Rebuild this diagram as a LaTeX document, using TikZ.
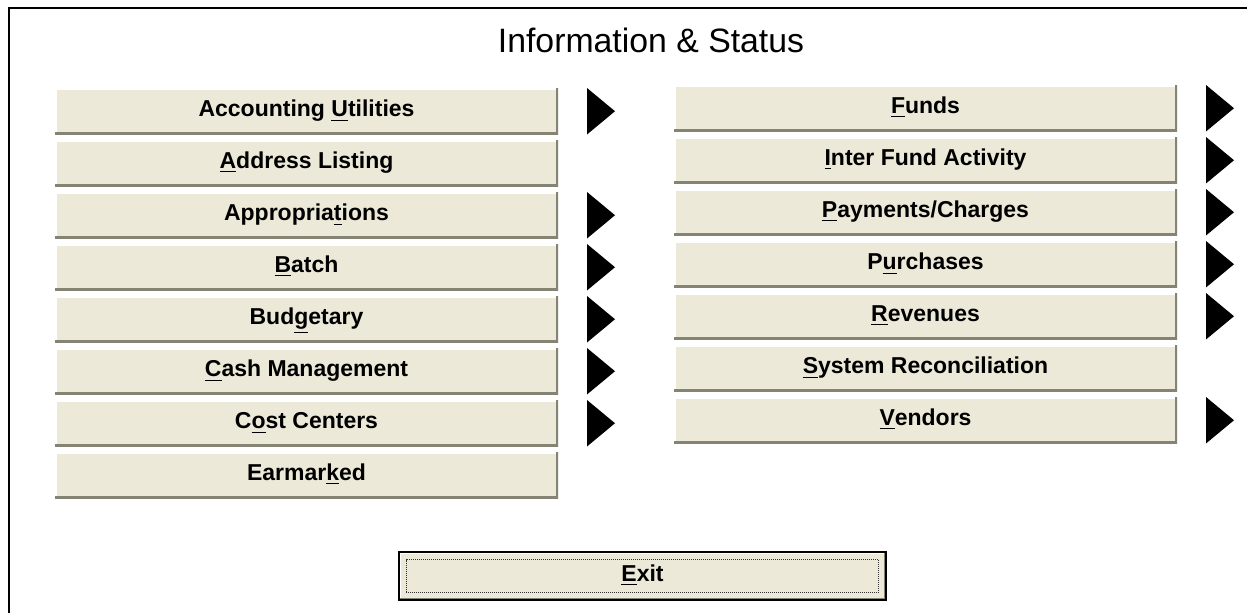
\documentclass[tikz,border=0pt]{standalone}
\usepackage{fontspec}
\setmainfont{Liberation Sans}
\usetikzlibrary{positioning}

\definecolor{BtnFace}{HTML}{ECE9D8}
\definecolor{BtnShade}{HTML}{858373}
\newcommand{\BtnFont}{\fontsize{11.5}{13}\selectfont\bfseries}
\newcommand{\Key}[1]{\underline{#1}}

\tikzset{
  MenuBtn/.style={fill=BtnFace, inner sep=0pt, outer sep=0pt,
    minimum width=251.5pt, minimum height=23.25pt,
    text height=8.2pt, text depth=2.5pt, font=\BtnFont,
    path picture={
      \draw[white, line width=1.6pt] (path picture bounding box.south west) |- (path picture bounding box.north east);
      \draw[BtnShade, line width=2.4pt] (path picture bounding box.south west) -| (path picture bounding box.north east);
    }},
  ExitBtn/.style={fill=BtnFace, draw=black, line width=1pt, inner sep=0pt, outer sep=0pt,
    minimum width=243.5pt, minimum height=24pt,
    text height=8.2pt, text depth=2.5pt, font=\BtnFont,
    path picture={
      \draw[white, line width=1.6pt] (path picture bounding box.south west) |- (path picture bounding box.north east);
      \draw[BtnShade, line width=2.4pt] (path picture bounding box.south west) -| (path picture bounding box.north east);
      \draw[black!80, dash pattern=on 0.5pt off 0.5pt, line width=0.6pt] ([shift={(3.6pt,3.8pt)}]path picture bounding box.south west) rectangle ([shift={(-3.6pt,-3.8pt)}]path picture bounding box.north east);
    }},
  SubArrow/.style={fill=black}
}

\begin{document}
\begin{tikzpicture}[x=0.5pt,y=-0.5pt]
	\useasboundingbox (0,0) rectangle (1247,613);
	\fill[white] (0,0) rectangle (1247,613);
	\draw[line width=1pt] (9,613) -- (9,8) -- (1247,8);

	\node[font=\fontsize{16.9}{18}\selectfont] (Title) at (651,40) {Information \& Status};

	% Left column of buttons
	\node[MenuBtn] (AcctUtil) at (306.5,111.25) {Accounting \Key{U}tilities};
	\node[MenuBtn, below=2.75pt of AcctUtil] (AddrList) {\Key{A}ddress Listing};
	\node[MenuBtn, below=2.75pt of AddrList] (Approp) {Appropria\Key{t}ions};
	\node[MenuBtn, below=2.75pt of Approp] (Batch) {\Key{B}atch};
	\node[MenuBtn, below=2.75pt of Batch] (Budget) {Bud\Key{g}etary};
	\node[MenuBtn, below=2.75pt of Budget] (CashMgmt) {\Key{C}ash Management};
	\node[MenuBtn, below=2.75pt of CashMgmt] (CostCtr) {C\Key{o}st Centers};
	\node[MenuBtn, below=2.75pt of CostCtr] (Earmark) {Earmar\Key{k}ed};

	% Right column of buttons
	\node[MenuBtn] (Funds) at (925.5,108.25) {\Key{F}unds};
	\node[MenuBtn, below=2.75pt of Funds] (InterFund) {\Key{I}nter Fund Activity};
	\node[MenuBtn, below=2.75pt of InterFund] (Payments) {\Key{P}ayments/Charges};
	\node[MenuBtn, below=2.75pt of Payments] (Purch) {P\Key{u}rchases};
	\node[MenuBtn, below=2.75pt of Purch] (Revenue) {\Key{R}evenues};
	\node[MenuBtn, below=2.75pt of Revenue] (SysRecon) {\Key{S}ystem Reconciliation};
	\node[MenuBtn, below=2.75pt of SysRecon] (Vendors) {\Key{V}endors};

	\node[ExitBtn] (Exit) at (642.5,576) {\Key{E}xit};

	% Submenu arrows
	\foreach \b in {AcctUtil,Approp,Batch,Budget,CashMgmt,CostCtr,Funds,InterFund,Payments,Purch,Revenue,Vendors}
		\fill[SubArrow] ([xshift=14.5pt]\b.north east) -- ([xshift=14.5pt]\b.south east) -- ([xshift=28.5pt]\b.east) -- cycle;
\end{tikzpicture}
\end{document}
